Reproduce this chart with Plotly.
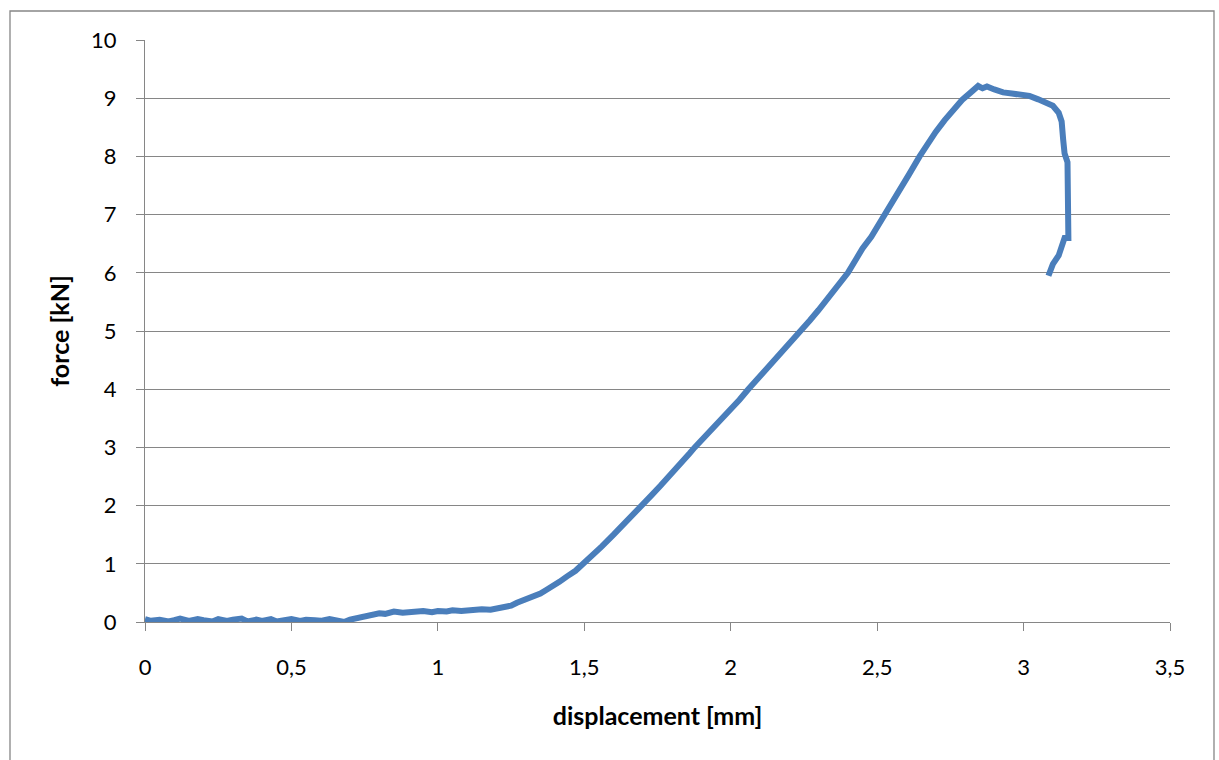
import plotly.graph_objects as go

displacement = [0, 0.02, 0.05, 0.08, 0.1, 0.12, 0.15, 0.18, 0.2, 0.23, 0.25, 0.28, 0.3, 0.33, 0.35,
                0.38, 0.4, 0.43, 0.45, 0.48, 0.5, 0.53, 0.55, 0.58, 0.6, 0.63, 0.65, 0.68, 0.7,
                0.73, 0.76, 0.78, 0.8, 0.82, 0.85, 0.88, 0.9, 0.93, 0.95, 0.98, 1.0, 1.03, 1.05,
                1.08, 1.1, 1.13, 1.15, 1.18, 1.2, 1.22, 1.25, 1.27, 1.3, 1.325, 1.35, 1.37, 1.39,
                1.415, 1.44, 1.47, 1.496, 1.53, 1.56, 1.6, 1.63, 1.66, 1.695, 1.73, 1.76, 1.8,
                1.83, 1.86, 1.877, 1.91, 1.94, 1.97, 2.0, 2.03, 2.06, 2.1, 2.13, 2.16, 2.2, 2.241,
                2.27, 2.3, 2.33, 2.36, 2.4, 2.43, 2.45, 2.48, 2.5, 2.526, 2.56, 2.58, 2.61, 2.645,
                2.67, 2.7, 2.73, 2.76, 2.79, 2.82, 2.845, 2.86, 2.875, 2.9, 2.93, 2.96, 2.99, 3.0,
                3.02, 3.05, 3.08, 3.1, 3.12, 3.13, 3.135, 3.14, 3.15, 3.152, 3.153, 3.14, 3.13,
                3.12, 3.1, 3.09, 3.085]
force = [0.05, 0.02, 0.04, 0.01, 0.03, 0.06, 0.02, 0.05, 0.03, 0.01, 0.05, 0.02, 0.04, 0.06, 0.01,
         0.04, 0.02, 0.05, 0.01, 0.03, 0.05, 0.02, 0.04, 0.03, 0.02, 0.05, 0.03, 0.0, 0.04,
         0.07, 0.1, 0.12, 0.15, 0.14, 0.18, 0.16, 0.17, 0.16, 0.19, 0.17, 0.19, 0.18, 0.2,
         0.19, 0.2, 0.19, 0.22, 0.21, 0.23, 0.24, 0.28, 0.33, 0.38, 0.43, 0.49, 0.55, 0.6,
         0.69, 0.78, 0.88, 1.0, 1.15, 1.3, 1.5, 1.65, 1.8, 2.0, 2.18, 2.34, 2.55,
         2.72, 2.9, 3.0, 3.17, 3.33, 3.5, 3.65, 3.82, 4.0, 4.22, 4.38, 4.55, 4.78, 5.0,
         5.18, 5.36, 5.55, 5.75, 6.0, 6.25, 6.42, 6.62, 6.78, 7.0, 7.28, 7.45, 7.7, 8.0,
         8.2, 8.42, 8.62, 8.8, 8.97, 9.1, 9.21, 9.17, 9.2, 9.15, 9.1, 9.08, 9.06, 9.05,
         9.04, 8.98, 8.93, 8.87, 8.75, 8.6, 8.3, 8.05, 7.9, 7.3, 6.6, 6.6, 6.45,
         6.3, 6.15, 6.05, 5.95]

x_tickvals = [0, 0.5, 1, 1.5, 2, 2.5, 3, 3.5]
x_ticktext = ["0", "0,5", "1", "1,5", "2", "2,5", "3", "3,5"]
y_tickvals = [0, 1, 2, 3, 4, 5, 6, 7, 8, 9, 10]

grey = "#868686"
font_family = "Lato, 'Open Sans', sans-serif"

fig = go.Figure()
fig.add_trace(go.Scatter(x=displacement, y=force, mode="lines",
                         line=dict(color="#4a7ebb", width=6), showlegend=False))

fig.update_layout(
    width=1219, height=760,
    margin=dict(l=145, r=49, t=40, b=138),
    plot_bgcolor="white", paper_bgcolor="white",
    font=dict(family=font_family, size=22, color="black"),
    xaxis=dict(range=[0, 3.5], tickvals=x_tickvals, ticktext=x_ticktext,
               showgrid=False, zeroline=False, showline=True, linecolor=grey, linewidth=1.3,
               ticks="outside", ticklen=8, tickcolor=grey, tickwidth=1.3,
               tickfont=dict(size=22),
               ticklabelstandoff=17,
               title=dict(text="<b>displacement [mm]</b>", font=dict(size=25), standoff=28)),
    yaxis=dict(range=[0, 10], tickvals=y_tickvals,
               showgrid=True, gridcolor=grey, gridwidth=1.3, zeroline=False,
               showline=True, linecolor=grey, linewidth=1.3,
               ticks="outside", ticklen=8, tickcolor=grey, tickwidth=1.3,
               tickfont=dict(size=22),
               ticklabelstandoff=15,
               title=dict(text="<b>force [kN]</b>", font=dict(size=25), standoff=14)),
    shapes=[dict(type="rect", xref="paper", yref="paper",
                 x0=(10 - 145) / 1025, x1=(1214 - 145) / 1025,
                 y0=(622 - 770) / 582, y1=(622 - 11) / 582,
                 line=dict(color=grey, width=1.3), fillcolor="rgba(0,0,0,0)", layer="below")],
)

fig.write_html("out.html")
